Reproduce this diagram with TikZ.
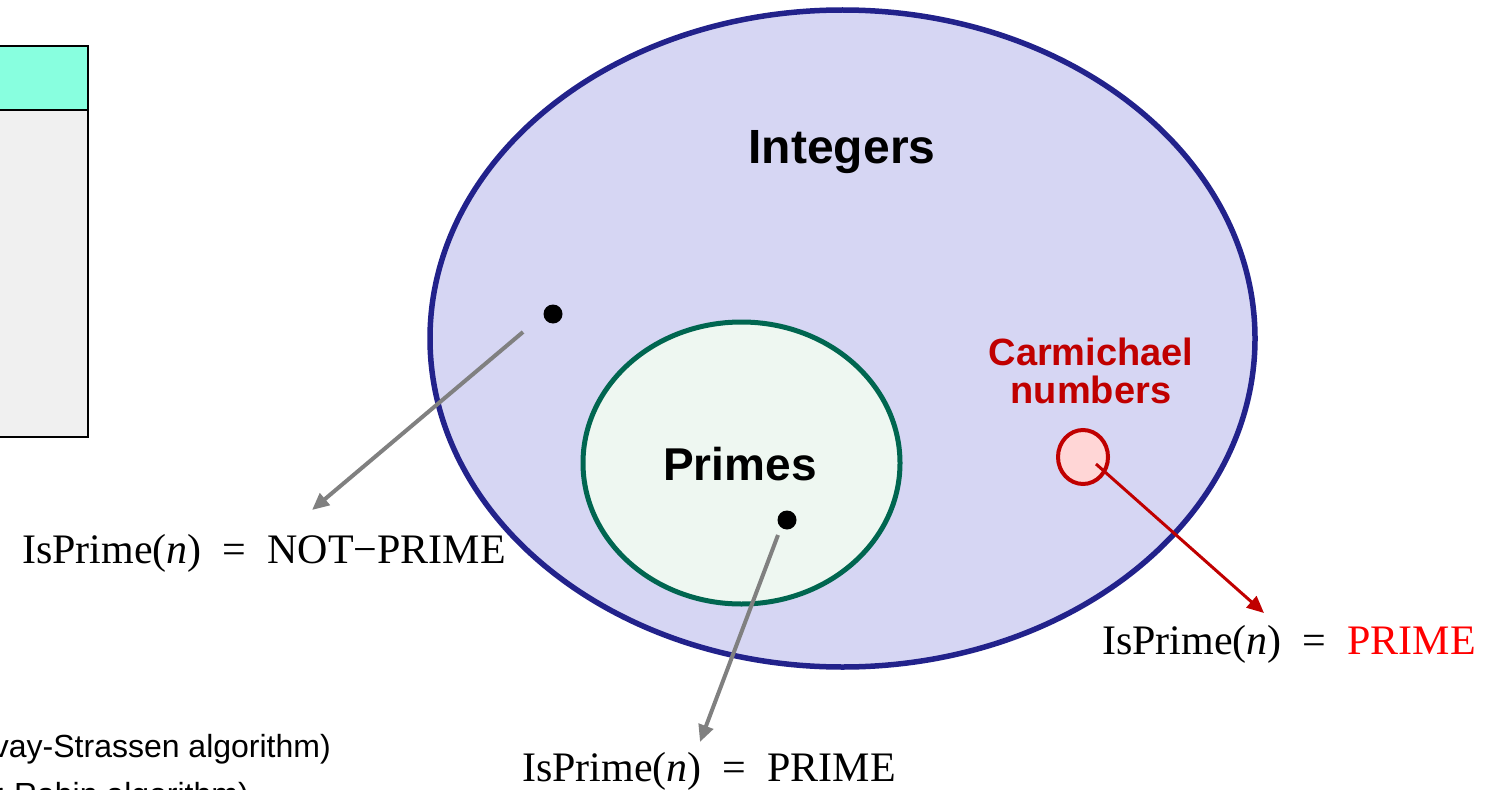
\documentclass[tikz,border=0pt]{standalone}
\usepackage{fontspec}
\setmainfont{Liberation Serif}
\setsansfont{Liberation Sans}
\usetikzlibrary{arrows.meta}
\definecolor{intline}{RGB}{34,34,139}
\definecolor{intfill}{RGB}{214,214,243}
\definecolor{primeline}{RGB}{0,102,80}
\definecolor{primefill}{RGB}{238,247,241}
\definecolor{carmline}{RGB}{192,0,0}
\definecolor{carmfill}{RGB}{255,214,214}
\definecolor{headfill}{RGB}{136,255,223}
\definecolor{bodyfill}{RGB}{240,240,240}
\tikzset{
  setname/.style={font=\sffamily\bfseries\fontsize{48}{48}\selectfont, inner sep=0pt, anchor=base},
  outcome/.style={font=\fontsize{42}{42}\selectfont, inner sep=0pt, anchor=base west},
  member/.style={circle, fill=black, inner sep=0pt, minimum size=19pt},
  pointer/.style={line width=4pt, gray, -{Triangle[length=17pt,width=15pt]}},
}
\newcommand{\isprime}{IsPrime(\textit{n})\hspace{0.5em}=\hspace{0.5em}}
\begin{document}
\begin{tikzpicture}[x=1pt,y=-1pt]
\clip (0,0) rectangle (1503,789);
% table on the left, cut by the page edge
\draw[line width=2.5pt, fill=bodyfill] (-20,110) rectangle (88,437);
\draw[line width=2.5pt, fill=headfill] (-20,46) rectangle (88,110);
\node[font=\sffamily\fontsize{32}{32}\selectfont, inner sep=0pt, anchor=base east] (ss) at (331,757) {vay-Strassen algorithm)};
\node[font=\sffamily\fontsize{32}{32}\selectfont, inner sep=0pt, anchor=base east] (mr) at (249,805) {r-Rabin algorithm)};

% the sets
\draw[line width=5.5pt, draw=intline, fill=intfill] (842.5,338.5) ellipse (412.5 and 328.5);
\draw[line width=5pt, draw=primeline, fill=primefill] (741.5,463) ellipse (158.5 and 141);
\draw[line width=4pt, draw=carmline, fill=carmfill] (1083,457) ellipse (25 and 27);
\node[setname] (ints) at (842,163) {Integers};
\node[setname, font=\sffamily\bfseries\fontsize{46}{46}\selectfont] (primes) at (740,480) {Primes};
\node[setname, font=\sffamily\bfseries\fontsize{38}{38}\selectfont, text=carmline, align=center] (carm) at (1091,403) {Carmichael\\numbers};

% sample numbers
\node[member] (comp) at (553,314) {};
\node[member] (prm) at (787,520) {};

% results of the test
\node[outcome] (notp) at (22,563) {\isprime NOT−PRIME};
\node[outcome] (isp) at (522,781) {\isprime PRIME};
\node[outcome] (carp) at (1102,654) {\isprime \textcolor{red}{PRIME}};

\coordinate (c1) at (523,332);
\coordinate (t1) at (312,510);
\coordinate (c2) at (778,535);
\coordinate (t2) at (700,742);
\coordinate (c3) at (1096,464);
\coordinate (t3) at (1264,613);
\draw[pointer] (c1) -- (t1);
\draw[pointer] (c2) -- (t2);
\draw[pointer, line width=3pt, carmline] (c3) -- (t3);
\end{tikzpicture}
\end{document}
